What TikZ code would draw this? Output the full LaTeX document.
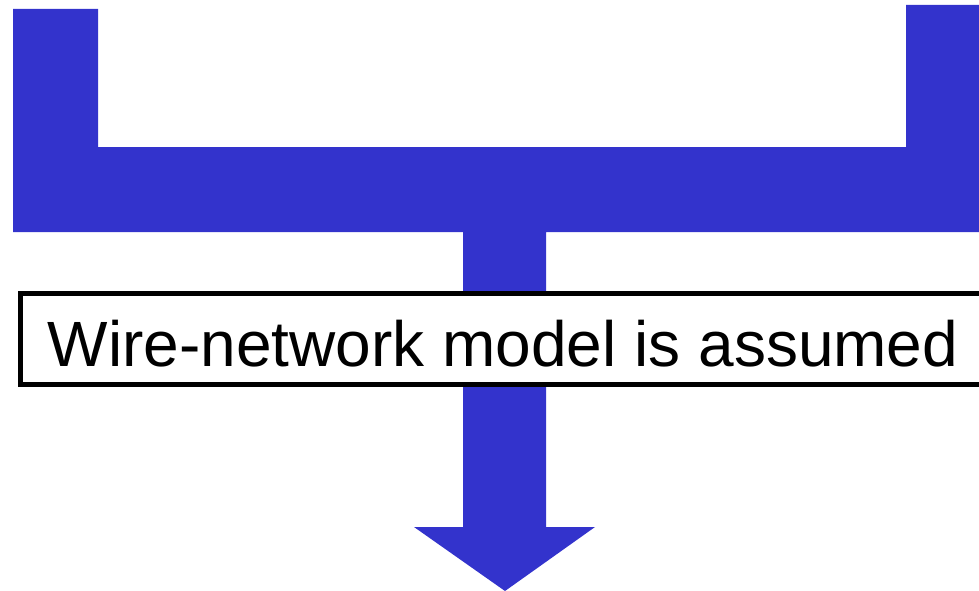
\documentclass[tikz,border=0pt]{standalone}
\usepackage{fontspec}
\setmainfont{Liberation Sans}
\definecolor{arrowblue}{HTML}{3333CC}
\begin{document}
\begin{tikzpicture}[x=1pt,y=-1pt,
  flow/.style={fill=arrowblue,draw=none},
  labelbox/.style={draw=black,fill=white,line width=5pt}]
\useasboundingbox (0,0) rectangle (979,591);
\fill[flow] (13,9) -- (98,9) -- (98,147) -- (906,147) -- (906,5) -- (985,5)
  -- (985,232) -- (546,232) -- (546,527) -- (595,527) -- (505,591)
  -- (414,527) -- (463,527) -- (463,232) -- (13,232) -- cycle;
\draw[labelbox] (20,293.5) rectangle (990,384.5);
\node[font=\fontsize{64}{72}\selectfont,anchor=base] (lbl) at (503,366) {Wire-network model is assumed};
\end{tikzpicture}
\end{document}
